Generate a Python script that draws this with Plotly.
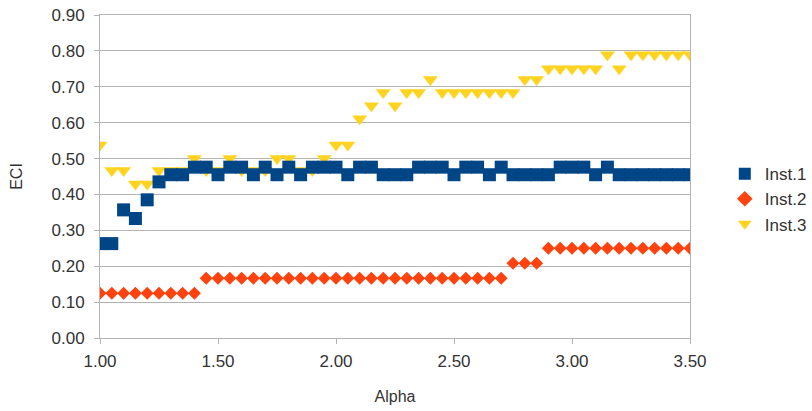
import plotly.graph_objects as go

alpha = [round(1.00 + 0.05 * i, 2) for i in range(51)]

inst1 = [0.263, 0.263, 0.357, 0.333, 0.385, 0.435, 0.455, 0.455, 0.476, 0.476,
         0.455, 0.476, 0.476, 0.455, 0.476, 0.455, 0.476, 0.455, 0.476, 0.476,
         0.476, 0.455, 0.476, 0.476, 0.455, 0.455, 0.455, 0.476, 0.476, 0.476,
         0.455, 0.476, 0.476, 0.455, 0.476, 0.455, 0.455, 0.455, 0.455, 0.476,
         0.476, 0.476, 0.455, 0.476, 0.455, 0.455, 0.455, 0.455, 0.455, 0.455,
         0.455]

inst2 = [0.125] * 9 + [0.1667] * 26 + [0.2083] * 3 + [0.25] * 13

inst3 = [0.538, 0.467, 0.467, 0.429, 0.429, 0.467, 0.467, 0.467, 0.500, 0.467,
         0.467, 0.500, 0.467, 0.467, 0.467, 0.500, 0.500, 0.467, 0.467, 0.500,
         0.538, 0.538, 0.611, 0.647, 0.684, 0.647, 0.684, 0.684, 0.720, 0.684,
         0.684, 0.684, 0.684, 0.684, 0.684, 0.684, 0.720, 0.720, 0.750, 0.750,
         0.750, 0.750, 0.750, 0.789, 0.750, 0.789, 0.789, 0.789, 0.789, 0.789,
         0.789]

names = ["Inst.1", "Inst.2", "Inst.3"]
colors = ["#004586", "#ff420e", "#ffd320"]
symbols = ["square", "diamond", "triangle-down"]
sizes = [13, 10, 13]
series = [inst1, inst2, inst3]

fig = go.Figure()
# draw yellow first so blue sits on top, as in the reference
for idx in [2, 1, 0]:
    fig.add_trace(go.Scatter(
        x=alpha, y=series[idx], name=names[idx], mode="markers",
        marker=dict(symbol=symbols[idx], color=colors[idx], size=sizes[idx],
                    line=dict(width=0)),
        legendrank=idx + 1,
    ))

font_family = "Liberation Sans, Arial, sans-serif"
fig.update_layout(
    width=812, height=411,
    margin=dict(l=100, r=122, t=15, b=73, autoexpand=False),
    paper_bgcolor="white", plot_bgcolor="white",
    font=dict(family=font_family, size=17, color="#333333"),
    showlegend=True,
    legend=dict(x=1.059, xanchor="left", y=0.43, yanchor="middle",
                font=dict(size=17, color="#333333"), bgcolor="rgba(0,0,0,0)",
                itemsizing="constant"),
)
fig.update_xaxes(
    range=[1.0, 3.5], dtick=0.5, tick0=1.0, tickformat=".2f",
    showgrid=False, zeroline=False,
    showline=True, linecolor="#b3b3b3", linewidth=1, mirror=True,
    ticks="outside", ticklen=5, tickcolor="#b3b3b3",
    ticklabelstandoff=3, ticklabeloverflow="allow",
    title=dict(text="Alpha", font=dict(size=16), standoff=20),
    tickfont=dict(size=17),
)
fig.update_yaxes(
    range=[0, 0.9], dtick=0.1, tick0=0, tickformat=".2f",
    showgrid=True, gridcolor="#b3b3b3", gridwidth=1, zeroline=False,
    showline=True, linecolor="#b3b3b3", linewidth=1, mirror=True,
    ticks="outside", ticklen=5, tickcolor="#b3b3b3",
    ticklabelstandoff=6, ticklabeloverflow="allow",
    title=dict(text="ECI", font=dict(size=16), standoff=24),
    tickfont=dict(size=17),
)

# remove the default 8px page margin so the figure fills the window exactly
fig.write_html("out.html",
               config={"displayModeBar": False, "staticPlot": True},
               post_script="document.body.style.margin='0px';document.body.style.overflow='hidden';")
